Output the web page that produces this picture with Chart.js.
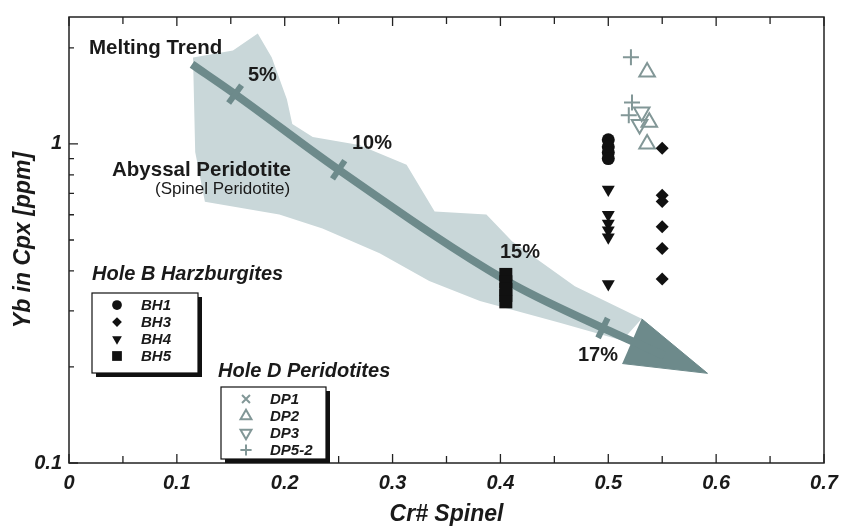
<!DOCTYPE html>
<html>
<head>
<meta charset="utf-8">
<script src="https://cdn.jsdelivr.net/npm/chart.js@4.4.1/dist/chart.umd.min.js"></script>
<style>
html, body { margin: 0; padding: 0; background: #fff; }
</style>
</head>
<body>
<canvas id="grafico-yb" width="843" height="531"></canvas>
<script>
// Valores (Cr# spinel x Yb em Cpx)
const bh1X = [0.5, 0.5, 0.5, 0.5]
const bh1Y = [1.03, 0.98, 0.94, 0.90]
const bh3X = [0.55, 0.55, 0.55, 0.55, 0.55, 0.55]
const bh3Y = [0.97, 0.69, 0.66, 0.55, 0.47, 0.377]
const bh4X = [0.5, 0.5, 0.5, 0.5, 0.5, 0.5]
const bh4Y = [0.72, 0.60, 0.563, 0.536, 0.51, 0.364]
const bh5X = [0.405, 0.405, 0.405, 0.405, 0.405]
const bh5Y = [0.39, 0.37, 0.35, 0.335, 0.32]
const dp1X = []
const dp1Y = []
const dp2X = [0.536, 0.538, 0.536]
const dp2Y = [1.68, 1.17, 1.0]
const dp3X = [0.531, 0.529]
const dp3Y = [1.26, 1.15]
const dp52X = [0.521, 0.522, 0.519]
const dp52Y = [1.87, 1.35, 1.23]

// tendencia de fusao
const trendX = [0.114, 0.154, 0.25, 0.406, 0.495, 0.552]
const trendY = [1.776, 1.432, 0.83, 0.372, 0.265, 0.217]
const meltX = [0.154, 0.25, 0.495]
const meltY = [1.432, 0.83, 0.265]
const arrowX = [0.531, 0.592, 0.513]
const arrowY = [0.283, 0.191, 0.205]

// campo dos peridotitos abissais
const shadeX = [0.115, 0.152, 0.175, 0.188, 0.202, 0.207, 0.226, 0.269, 0.313, 0.339, 0.387, 0.411, 0.469, 0.531,
                0.513, 0.455, 0.381, 0.334, 0.288, 0.235, 0.195, 0.126, 0.117]
const shadeY = [1.866, 1.963, 2.218, 1.866, 1.38, 1.154, 1.052, 0.993, 0.86, 0.614, 0.601, 0.495, 0.358, 0.283,
                0.242, 0.275, 0.322, 0.372, 0.454, 0.543, 0.601, 0.659, 0.944]

// eixos
const xTicks = [0, 0.1, 0.2, 0.3, 0.4, 0.5, 0.6, 0.7]
const xTickLabels = ['0', '0.1', '0.2', '0.3', '0.4', '0.5', '0.6', '0.7']
const xMinor = [0.05, 0.15, 0.25, 0.35, 0.45, 0.55, 0.65]
const yTicks = [0.1, 1]
const yTickLabels = ['0.1', '1']
const yMinor = [0.2, 0.3, 0.4, 0.5, 0.6, 0.7, 0.8, 0.9, 2]

const corTendencia = '#6d8a8b'
const corCampo = '#c9d7d9'
const corDP = '#829797'
const fonte = "'Liberation Sans', Arial, sans-serif"

function pontos(xs, ys) {
    return xs.map(function(x, i) { return { x: x, y: ys[i] } })
}

var dsBH1 = { label: 'BH1', data: pontos(bh1X, bh1Y), pointStyle: 'circle', pointRadius: 6.5, backgroundColor: '#111', borderColor: '#111', borderWidth: 0, order: 1 }
var dsBH3 = { label: 'BH3', data: pontos(bh3X, bh3Y), pointStyle: 'rectRot', pointRadius: 6.5, backgroundColor: '#111', borderColor: '#111', borderWidth: 0, order: 1 }
var dsBH4 = { label: 'BH4', data: pontos(bh4X, bh4Y), pointStyle: 'triangle', rotation: 180, pointRadius: 7.5, backgroundColor: '#111', borderColor: '#111', borderWidth: 0, order: 1 }
var dsBH5 = { label: 'BH5', data: pontos(bh5X, bh5Y), pointStyle: 'rect', pointRadius: 9.2, backgroundColor: '#111', borderColor: '#111', borderWidth: 0, order: 1 }
var dsDP1 = { label: 'DP1', data: pontos(dp1X, dp1Y), pointStyle: 'crossRot', pointRadius: 8, backgroundColor: corDP, borderColor: corDP, borderWidth: 2, order: 1 }
var dsDP2 = { label: 'DP2', data: pontos(dp2X, dp2Y), pointStyle: 'triangle', pointRadius: 9, backgroundColor: 'rgba(0,0,0,0)', borderColor: corDP, borderWidth: 2, order: 1 }
var dsDP3 = { label: 'DP3', data: pontos(dp3X, dp3Y), pointStyle: 'triangle', rotation: 180, pointRadius: 9, backgroundColor: 'rgba(0,0,0,0)', borderColor: corDP, borderWidth: 2, order: 1 }
var dsDP52 = { label: 'DP5-2', data: pontos(dp52X, dp52Y), pointStyle: 'cross', pointRadius: 8, backgroundColor: corDP, borderColor: corDP, borderWidth: 2, order: 1 }

var datasets = [
    { label: 'campo', data: pontos(shadeX, shadeY), showLine: true, fill: 'shape', backgroundColor: corCampo, borderColor: corCampo, borderWidth: 0, pointRadius: 0, order: 10 },
    { label: 'seta', data: pontos(arrowX, arrowY), showLine: true, fill: 'shape', backgroundColor: corTendencia, borderColor: corTendencia, borderWidth: 1, pointRadius: 0, order: 9 },
    { label: 'tendencia', data: pontos(trendX, trendY), showLine: true, cubicInterpolationMode: 'monotone', borderColor: corTendencia, borderWidth: 8, borderCapStyle: 'butt', pointRadius: 0, order: 8 },
    { label: 'fusao', data: pontos(meltX, meltY), pointStyle: 'line', rotation: [126, 124, 116], pointRadius: 11, borderColor: corTendencia, borderWidth: 6, order: 7 },
    dsBH1, dsBH3, dsBH4, dsBH5, dsDP1, dsDP2, dsDP3, dsDP52
]

// textos soltos no grafico
var anotacoes = [
    { texto: 'Melting Trend', x: 89, y: 48, font: 'bold 20.5px ' + fonte },
    { texto: '5%', x: 248, y: 75, font: 'bold 20px ' + fonte },
    { texto: '10%', x: 352, y: 143, font: 'bold 20px ' + fonte },
    { texto: '15%', x: 500, y: 252, font: 'bold 20px ' + fonte },
    { texto: '17%', x: 578, y: 355, font: 'bold 20px ' + fonte },
    { texto: 'Abyssal Peridotite', x: 112, y: 170, font: 'bold 20.5px ' + fonte },
    { texto: '(Spinel Peridotite)', x: 155, y: 189, font: '17px ' + fonte },
    { texto: 'Hole B Harzburgites', x: 92, y: 274, font: 'bold italic 20px ' + fonte },
    { texto: 'Hole D Peridotites', x: 218, y: 371, font: 'bold italic 20px ' + fonte }
]

var legendas = [
    { x: 92, y: 293, w: 106, h: 80, itens: [dsBH1, dsBH3, dsBH4, dsBH5], escala: 0.75 },
    { x: 221, y: 387, w: 105, h: 72, itens: [dsDP1, dsDP2, dsDP3, dsDP52], escala: 0.7 }
]

var pluginMoldura = {
    id: 'moldura',
    afterDatasetsDraw: function(chart) {
        var ctx = chart.ctx
        var a = chart.chartArea
        var sx = chart.scales.x
        var sy = chart.scales.y
        ctx.save()
        ctx.strokeStyle = '#222'
        ctx.lineWidth = 1.5
        ctx.strokeRect(a.left, a.top, a.right - a.left, a.bottom - a.top)

        // marcas para dentro
        ctx.lineWidth = 1.3
        ctx.beginPath()
        xTicks.concat(xMinor).forEach(function(v) {
            var px = sx.getPixelForValue(v)
            var len = xTicks.indexOf(v) >= 0 ? 9 : 7
            ctx.moveTo(px, a.bottom); ctx.lineTo(px, a.bottom - len)
            ctx.moveTo(px, a.top); ctx.lineTo(px, a.top + len)
        })
        yTicks.concat(yMinor).forEach(function(v) {
            var py = sy.getPixelForValue(v)
            var len = yTicks.indexOf(v) >= 0 ? 9 : 5
            ctx.moveTo(a.left, py); ctx.lineTo(a.left + len, py)
        })
        ctx.stroke()

        // textos
        ctx.fillStyle = '#1a1a1a'
        ctx.textBaseline = 'middle'
        ctx.textAlign = 'left'
        anotacoes.forEach(function(t) {
            ctx.font = t.font
            ctx.fillText(t.texto, t.x, t.y)
        })

        // caixas de legenda com sombra
        legendas.forEach(function(l) {
            ctx.fillStyle = '#111'
            ctx.fillRect(l.x + 4, l.y + 4, l.w, l.h)
            ctx.fillStyle = '#fff'
            ctx.fillRect(l.x, l.y, l.w, l.h)
            ctx.strokeStyle = '#111'
            ctx.lineWidth = 1.2
            ctx.strokeRect(l.x, l.y, l.w, l.h)
            l.itens.forEach(function(ds, i) {
                var cy = l.y + 12 + 17 * i
                ctx.fillStyle = ds.backgroundColor
                ctx.strokeStyle = ds.borderColor
                ctx.lineWidth = ds.borderWidth
                Chart.helpers.drawPoint(ctx, {
                    pointStyle: ds.pointStyle,
                    rotation: ds.rotation || 0,
                    radius: ds.pointRadius * l.escala,
                    borderWidth: ds.borderWidth
                }, l.x + 25, cy)
                ctx.fillStyle = '#1a1a1a'
                ctx.font = 'bold italic 15px ' + fonte
                ctx.textBaseline = 'middle'
                ctx.fillText(ds.label, l.x + 49, cy + 1)
            })
        })
        ctx.restore()
    }
}

var grafico = new Chart(document.getElementById('grafico-yb'), {
    type: 'scatter',
    data: { datasets: datasets },
    options: {
        responsive: false,
        animation: false,
        layout: { padding: { top: 8, right: 19, left: 0, bottom: 0 } },
        plugins: {
            legend: { display: false },
            tooltip: { enabled: false }
        },
        scales: {
            x: {
                type: 'linear',
                min: 0,
                max: 0.7,
                afterFit: function(s) { s.height = 68; s.paddingLeft = 0; s.paddingRight = 0 },
                afterBuildTicks: function(s) { s.ticks = xTicks.map(function(v) { return { value: v } }) },
                grid: { display: false, drawTicks: false },
                border: { display: false },
                ticks: {
                    padding: 8,
                    color: '#1a1a1a',
                    font: { family: fonte, size: 20, weight: 'bold', style: 'italic' },
                    callback: function(v, i) { return xTickLabels[i] }
                },
                title: {
                    display: true,
                    text: 'Cr# Spinel',
                    color: '#1a1a1a',
                    padding: { top: 4, bottom: 3 },
                    font: { family: fonte, size: 23, weight: 'bold', style: 'italic' }
                }
            },
            y: {
                type: 'logarithmic',
                min: 0.1,
                max: 2.5,
                afterFit: function(s) { s.width = 69; s.paddingTop = 0; s.paddingBottom = 0 },
                afterBuildTicks: function(s) { s.ticks = yTicks.map(function(v) { return { value: v } }) },
                grid: { display: false, drawTicks: false },
                border: { display: false },
                ticks: {
                    padding: 7,
                    color: '#1a1a1a',
                    font: { family: fonte, size: 20, weight: 'bold', style: 'italic' },
                    callback: function(v, i) { return yTickLabels[i] }
                },
                title: {
                    display: true,
                    text: 'Yb in Cpx [ppm]',
                    color: '#1a1a1a',
                    padding: { top: 10, bottom: 4 },
                    font: { family: fonte, size: 23, weight: 'bold', style: 'italic' }
                }
            }
        }
    },
    plugins: [pluginMoldura]
})
</script>
</body>
</html>
